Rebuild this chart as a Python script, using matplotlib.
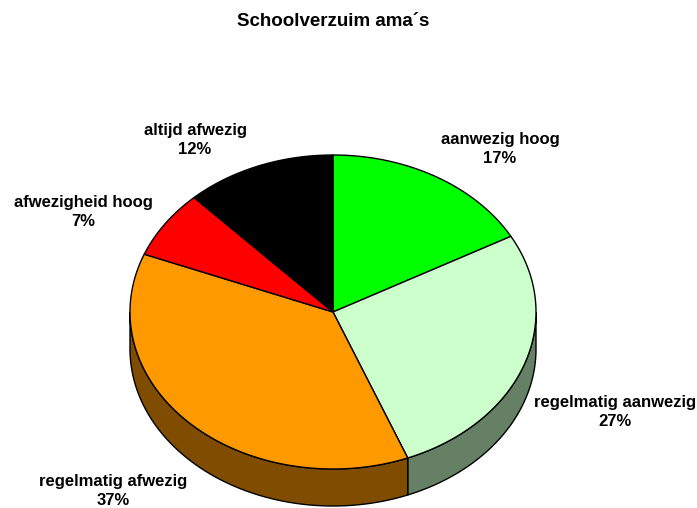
import numpy as np
import matplotlib
matplotlib.use("Agg")
import matplotlib.pyplot as plt
from matplotlib.patches import Polygon

title = "Schoolverzuim ama\u00b4s"
categories = ["aanwezig hoog", "regelmatig aanwezig", "regelmatig afwezig",
              "afwezigheid hoog", "altijd afwezig"]
values = [17, 27, 37, 7, 12]
top_colors = ["#00FF00", "#CCFFCC", "#FF9900", "#FF0000", "#000000"]
side_colors = ["#008000", "#668066", "#804C00", "#800000", "#000000"]
label_pos = [(500, 149), (615, 412), (113, 491), (83, 212), (195, 140)]

W, H = 697, 508
fig = plt.figure(figsize=(W / 100, H / 100), dpi=100)
ax = fig.add_axes([0, 0, 1, 1])
ax.set_xlim(0, W)
ax.set_ylim(H, 0)
ax.axis("off")

cx, cy, a, b, depth = 333, 312, 203, 157, 37

def pt(th, dy=0.0):
    return cx + a * np.cos(th), cy - b * np.sin(th) + dy

total = float(sum(values))
starts, ends = [], []
acc = 0.0
for v in values:
    th0 = np.deg2rad(90 - 360 * acc / total)
    acc += v
    th1 = np.deg2rad(90 - 360 * acc / total)
    starts.append(th0)
    ends.append(th1)

# sides (visible lower half: sin(theta) < 0)
for th0, th1, sc in zip(starts, ends, side_colors):
    lo, hi = th1, th0
    for shift in (0, -2 * np.pi, 2 * np.pi):
        l, h = lo + shift, hi + shift
        s0, s1 = max(l, -np.pi), min(h, 0)
        if s1 > s0:
            ts = np.linspace(s0, s1, 100)
            top = [pt(t) for t in ts]
            bot = [pt(t, depth) for t in ts[::-1]]
            ax.add_patch(Polygon(top + bot, closed=True, facecolor=sc,
                                 edgecolor="black", linewidth=1.0, zorder=1))

# tops
for th0, th1, tc in zip(starts, ends, top_colors):
    ts = np.linspace(th0, th1, 200)
    pts = [(cx, cy)] + [pt(t) for t in ts]
    ax.add_patch(Polygon(pts, closed=True, facecolor=tc, edgecolor="black",
                         linewidth=1.0, zorder=2, joinstyle="round"))

font = ["Liberation Sans", "DejaVu Sans"]
ax.text(333, 22, title, ha="center", va="center", fontsize=13.5,
        fontweight="bold", family=font)

for cat, v, (lx, ly) in zip(categories, values, label_pos):
    ax.text(lx, ly, f"{cat}\n{v / total * 100:.0f}%", ha="center", va="center",
            fontsize=12, fontweight="bold", family=font, linespacing=1.35,
            zorder=3)

fig.savefig("out.png", dpi=100)
